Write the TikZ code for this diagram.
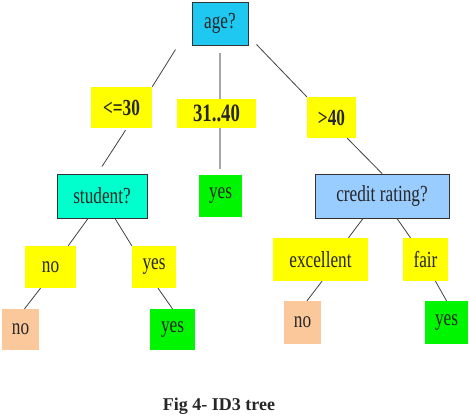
\documentclass[tikz,border=0pt]{standalone}
\usepackage{fontspec}
\setmainfont{Liberation Serif}[FakeStretch=0.75]
\newfontfamily\capfont{Liberation Serif}
\usepackage{tikz}
\usepackage{xcolor}
\usetikzlibrary{positioning}

\definecolor{agecol}{RGB}{30,200,240}
\definecolor{studcol}{RGB}{0,255,204}
\definecolor{credcol}{RGB}{153,204,255}
\definecolor{branchcol}{RGB}{255,255,0}
\definecolor{yescol}{RGB}{0,245,0}
\definecolor{nocol}{RGB}{250,200,155}

\begin{document}
\begin{tikzpicture}[
x=1pt, y=-1pt,
every node/.style={font=\fontsize{23}{25}\selectfont, text=black!85, inner sep=0pt},
test/.style={draw=black!80, line width=1pt, minimum height=44pt},
branch/.style={fill=branchcol, minimum height=42pt},
leafyes/.style={fill=yescol, minimum width=44pt, minimum height=42pt},
leafno/.style={fill=nocol, minimum width=37pt, minimum height=42pt},
edge/.style={draw=black!75, line width=0.8pt}
]
\useasboundingbox (0,0) rectangle (469,416);
% tests
\node[test, fill=agecol, minimum width=56pt, minimum height=43pt] (age) at (220,23.5) {age?};
\node[test, fill=studcol, minimum width=90pt] (student) at (102,196) {student?};
\node[test, fill=credcol, minimum width=134pt] (credit) at (382,196) {credit rating?};
% branch labels
\node[branch, minimum width=61pt, minimum height=41pt, font=\fontsize{23}{25}\selectfont\bfseries] (young) at (121.5,107.5) {<=30};
\node[branch, minimum width=79pt, minimum height=29pt, font=\fontsize{25}{27}\selectfont\bfseries] (middle) at (216.5,113.5) {31..40};
\node[branch, minimum width=49pt, minimum height=41pt, font=\fontsize{23}{25}\selectfont\bfseries] (senior) at (331.5,117.5) {>40};
\node[branch, minimum width=51pt] (stno) at (50.5,267) {no};
\node[branch, minimum width=44pt] (styes) at (154,267) {yes};
\node[branch, minimum width=95pt, minimum height=43pt] (excellent) at (320.5,259.5) {excellent};
\node[branch, minimum width=45pt, minimum height=43pt] (fair) at (425.5,259.5) {fair};
% leaves
\node[leafyes, minimum width=43pt] (yesmid) at (220.5,196) {yes};
\node[leafno, minimum height=41pt] (leafnoa) at (20.5,329.5) {no};
\node[leafyes, minimum width=45pt, minimum height=41pt] (leafyesa) at (172.5,329.5) {yes};
\node[leafno, minimum height=43pt] (leafnob) at (302.5,322.5) {no};
\node[leafyes, minimum width=43pt, minimum height=43pt] (leafyesb) at (446.5,322.5) {yes};
% edges
\draw[edge] ([xshift=-16pt,yshift=-4pt]age.south west) -- (young.north east);
\draw[draw=black!35, line width=1.5pt] ([yshift=-7pt]age.south) -- (age.south |- middle.north);
\draw[draw=black!35, line width=1.5pt] (age.south |- middle.south) -- ([yshift=6pt]age.south |- yesmid.north);
\draw[edge] ([xshift=8pt,yshift=1pt]age.south east) -- (senior.north west);
\draw[edge] ([xshift=4pt,yshift=-2pt]young.south) -- ([yshift=7pt]student.north);
\draw[edge] ([xshift=-9pt]senior.south east) -- (credit.north);
\draw[edge] ([xshift=-14pt]student.south) -- ([xshift=-8pt]stno.north east);
\draw[edge] ([xshift=13pt]student.south) -- (styes.north west);
\draw[edge] ([xshift=-10pt]stno.south) -- ([xshift=4pt]leafnoa.north);
\draw[edge] ([xshift=4pt]styes.south) -- (leafyesa.north);
\draw[edge] ([xshift=-19pt]credit.south) -- ([xshift=28pt]excellent.north);
\draw[edge] ([xshift=15pt]credit.south) -- ([xshift=-15pt]fair.north);
\draw[edge] ([xshift=1.5pt]excellent.south) -- ([xshift=4.5pt]leafnob.north);
\draw[edge] ([xshift=10pt]fair.south) -- (leafyesb.north);
% caption
\node[anchor=base, font=\capfont\fontsize{18}{20}\selectfont\bfseries] (caption) at (219,410) {Fig 4- ID3 tree};
\end{tikzpicture}
\end{document}
